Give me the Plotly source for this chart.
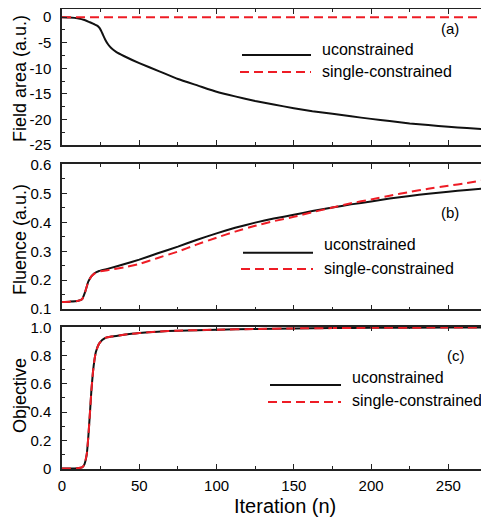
import plotly.graph_objects as go

# ---------------- data ----------------
iter_a = [0, 5, 10, 15, 18, 21, 23, 24.5, 26, 28, 30, 32, 35, 40, 50, 63, 75, 88, 100,
          112, 125, 137, 150, 162, 175, 187, 200, 212, 225, 237, 250, 262, 275]
field_unc = [0, -0.05, -0.2, -0.6, -1.0, -1.4, -1.7, -2.2, -3.1, -4.4, -5.4, -6.1, -6.8,
             -7.6, -9.0, -10.6, -12.1, -13.4, -14.6, -15.5, -16.4, -17.1, -17.8, -18.4,
             -18.9, -19.4, -19.9, -20.3, -20.8, -21.1, -21.45, -21.7, -21.95]
iter_a_sc = [0, 50, 100, 150, 200, 250, 275]
field_sc = [0, 0, 0, 0, 0, 0, 0]

iter_b = [0, 5, 10, 13, 15, 17, 19, 21, 24, 30, 40, 50, 62, 75, 87, 100, 112, 125, 137,
          150, 162, 175, 187, 200, 212, 225, 237, 250, 262, 275]
fluence_unc = [0.125, 0.126, 0.128, 0.134, 0.16, 0.195, 0.213, 0.224, 0.232, 0.24, 0.255,
               0.271, 0.293, 0.316, 0.339, 0.362, 0.381, 0.399, 0.413, 0.426, 0.439, 0.451,
               0.462, 0.472, 0.482, 0.491, 0.499, 0.506, 0.512, 0.518]
fluence_sc = [0.125, 0.126, 0.128, 0.134, 0.16, 0.195, 0.213, 0.223, 0.23, 0.235, 0.244,
              0.256, 0.277, 0.299, 0.323, 0.347, 0.368, 0.388, 0.404, 0.419, 0.435, 0.451,
              0.466, 0.479, 0.492, 0.505, 0.516, 0.526, 0.536, 0.547]

iter_c = [0, 5, 10, 13, 14.5, 16, 17, 18, 19, 20, 21, 22, 24, 26, 28, 32, 37, 45, 50, 62,
          75, 100, 125, 150, 175, 200, 250, 275]
objective_unc = [0, 0, 0.002, 0.008, 0.03, 0.1, 0.22, 0.38, 0.55, 0.68, 0.77, 0.83, 0.885,
                 0.91, 0.925, 0.935, 0.943, 0.955, 0.96, 0.97, 0.977, 0.984, 0.989, 0.993,
                 0.995, 0.997, 0.999, 1.0]
objective_sc = [0, 0, 0.002, 0.008, 0.03, 0.1, 0.22, 0.38, 0.55, 0.68, 0.77, 0.83, 0.885,
                0.91, 0.925, 0.935, 0.943, 0.955, 0.96, 0.97, 0.977, 0.984, 0.989, 0.993,
                0.995, 0.997, 0.999, 1.0]

x_tickvals = [0, 50, 100, 150, 200, 250]
x_ticktext = ["0", "50", "100", "150", "200", "250"]
a_tickvals = [0, -5, -10, -15, -20, -25]
a_ticktext = ["0", "-5", "-10", "-15", "-20", "-25"]
b_tickvals = [0.1, 0.2, 0.3, 0.4, 0.5, 0.6]
b_ticktext = ["0.1", "0.2", "0.3", "0.4", "0.5", "0.6"]
c_tickvals = [0, 0.2, 0.4, 0.6, 0.8, 1.0]
c_ticktext = ["0", "0.2", "0.4", "0.6", "0.8", "1.0"]

names = ["uconstrained", "single-constrained"]
panel_labels = ["(a)", "(b)", "(c)"]
y_titles = ["Field area (a.u.)", "Fluence (a.u.)", "Objective"]
x_title = "Iteration (n)"

# ---------------- layout helpers ----------------
# The page body has an 8px default margin, so the figure is drawn 8px in
# from the window corner; all positions below are window pixels.
OFF = 8
W, H = 489 - OFF, 525 - OFF
L, R, T, B = 62, 487, 9, 469


def px(x):
    return (x - L) / (R - L)


def py(y):
    return (B - y) / (B - T)


BLACK = "#111111"
RED = "#ee1c25"
FONT = "Liberation Sans, Arial, sans-serif"

fig = go.Figure()

spl = dict(shape="spline", smoothing=0.4)
fig.add_trace(go.Scatter(x=iter_a, y=field_unc, mode="lines", name=names[0],
                         line=dict(color=BLACK, width=2, **spl), xaxis="x", yaxis="y"))
fig.add_trace(go.Scatter(x=iter_a_sc, y=field_sc, mode="lines", name=names[1],
                         line=dict(color=RED, width=2, dash="9px,5px"), xaxis="x", yaxis="y"))
fig.add_trace(go.Scatter(x=iter_b, y=fluence_unc, mode="lines", name=names[0],
                         line=dict(color=BLACK, width=2, **spl), xaxis="x2", yaxis="y2"))
fig.add_trace(go.Scatter(x=iter_b, y=fluence_sc, mode="lines", name=names[1],
                         line=dict(color=RED, width=2, dash="9px,5px", **spl),
                         xaxis="x2", yaxis="y2"))
fig.add_trace(go.Scatter(x=iter_c, y=objective_unc, mode="lines", name=names[0],
                         line=dict(color=BLACK, width=2, **spl), xaxis="x3", yaxis="y3"))
fig.add_trace(go.Scatter(x=iter_c, y=objective_sc, mode="lines", name=names[1],
                         line=dict(color=RED, width=2, dash="9px,5px", **spl),
                         xaxis="x3", yaxis="y3"))

panels = [(T, 145), (164.3, 309.3), (326.7, 469)]

axis_common = dict(showline=True, linecolor="#222222", linewidth=1.5, mirror="ticks",
                   ticks="inside", ticklen=5, tickwidth=1, tickcolor="#222222",
                   showgrid=False, zeroline=False, automargin=False,
                   ticklabeloverflow="allow",
                   tickfont=dict(family=FONT, size=15, color="black"))

xa = dict(range=[0, 275], tickvals=x_tickvals, ticktext=x_ticktext,
          minor=dict(dtick=25, tick0=0, ticks="inside", ticklen=3, tickcolor="#222222"),
          **axis_common)

layout = dict(
    template="none",
    width=W, height=H,
    margin=dict(l=L - OFF, r=W - (R - OFF), t=T - OFF, b=H - (B - OFF), pad=0,
                autoexpand=False),
    paper_bgcolor="white", plot_bgcolor="white",
    showlegend=False,
    font=dict(family=FONT, color="black"),
)
layout["xaxis"] = dict(domain=[0, 1], anchor="y", showticklabels=False, **xa)
layout["xaxis2"] = dict(domain=[0, 1], anchor="y2", showticklabels=False, **xa)
layout["xaxis3"] = dict(domain=[0, 1], anchor="y3", showticklabels=True,
                        ticklabelstandoff=2, **xa)
layout["yaxis"] = dict(domain=[py(panels[0][1]), py(panels[0][0])], anchor="x",
                       range=[-25.01, 1.6], tickvals=a_tickvals, ticktext=a_ticktext,
                       minor=dict(dtick=2.5, tick0=0, ticks="inside", ticklen=3,
                                  tickcolor="#222222"),
                       ticklabelstandoff=6, **axis_common)
layout["yaxis2"] = dict(domain=[py(panels[1][1]), py(panels[1][0])], anchor="x2",
                        range=[0.0995, 0.6005], tickvals=b_tickvals, ticktext=b_ticktext,
                        minor=dict(dtick=0.05, tick0=0.1, ticks="inside", ticklen=3,
                                   tickcolor="#222222"),
                        ticklabelstandoff=6, **axis_common)
layout["yaxis3"] = dict(domain=[py(panels[2][1]), py(panels[2][0])], anchor="x3",
                        range=[-0.003, 1.005], tickvals=c_tickvals, ticktext=c_ticktext,
                        minor=dict(dtick=0.1, tick0=0, ticks="inside", ticklen=3,
                                   tickcolor="#222222"),
                        ticklabelstandoff=6, **axis_common)

annotations = []
shapes = []

# axis titles
title_y = [79, 240, 396]
for t, yy in zip(y_titles, title_y):
    annotations.append(dict(text=t, x=px(20), y=py(yy), xref="paper", yref="paper",
                            textangle=-90, showarrow=False, xanchor="center",
                            yanchor="middle", font=dict(family=FONT, size=18, color="black")))
annotations.append(dict(text=x_title, x=px(285), y=py(506), xref="paper", yref="paper",
                        showarrow=False, xanchor="center", yanchor="middle",
                        font=dict(family=FONT, size=20, color="black")))

# panel labels
for lab, (xx, yy) in zip(panel_labels, [(450, 29), (450, 212), (456, 355)]):
    annotations.append(dict(text=lab, x=px(xx), y=py(yy), xref="paper", yref="paper",
                            showarrow=False, xanchor="center", yanchor="middle",
                            font=dict(family=FONT, size=15, color="black")))

# legends: (line x0, x1, y_unc, y_sc, text x, text y unc, text y sc)
legs = [(242, 311, 55, 72, 320, 49, 72),
        (243, 313, 252.7, 269, 322, 245, 268),
        (270, 341, 385, 402, 350, 377, 400)]
for (x0, x1, y1, y2, tx, ty1, ty2) in legs:
    shapes.append(dict(type="line", xref="paper", yref="paper", x0=px(x0), x1=px(x1),
                       y0=py(y1), y1=py(y1), line=dict(color=BLACK, width=2)))
    shapes.append(dict(type="line", xref="paper", yref="paper", x0=px(x0 - 2), x1=px(x1),
                       y0=py(y2), y1=py(y2), line=dict(color=RED, width=2, dash="9px,5px")))
    annotations.append(dict(text=names[0], x=px(tx), y=py(ty1), xref="paper", yref="paper",
                            showarrow=False, xanchor="left", yanchor="middle",
                            font=dict(family=FONT, size=16, color="black")))
    annotations.append(dict(text=names[1], x=px(tx), y=py(ty2), xref="paper", yref="paper",
                            showarrow=False, xanchor="left", yanchor="middle",
                            font=dict(family=FONT, size=16, color="black")))

layout["annotations"] = annotations
layout["shapes"] = shapes
fig.update_layout(**layout)

fig.write_html("out.html")
